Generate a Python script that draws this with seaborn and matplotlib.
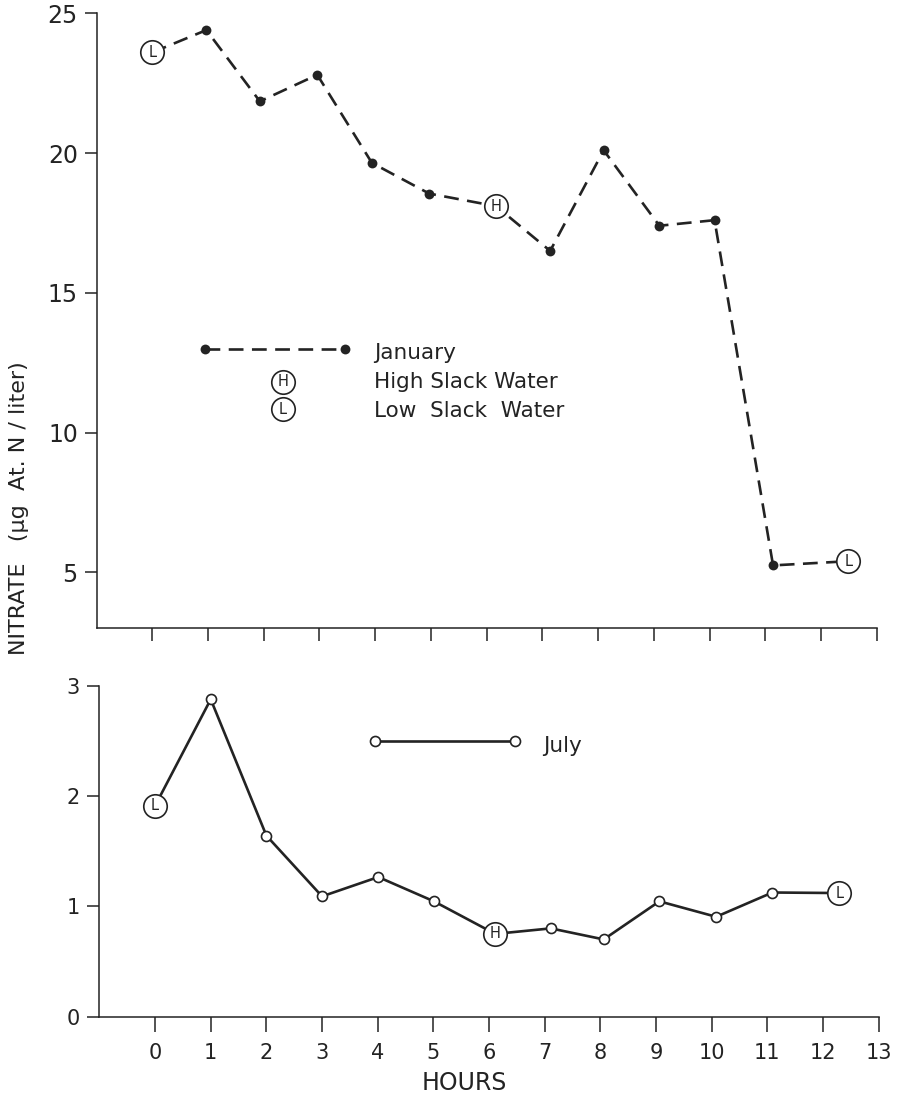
import matplotlib
matplotlib.use("Agg")
import matplotlib.pyplot as plt
import pandas as pd
import seaborn as sns

# January series: hour of sampling, nitrate, tide stage (L = low slack, H = high slack)
jan_hours = [0.0, 0.97, 1.93, 2.96, 3.94, 4.97, 6.17, 7.14, 8.10, 9.10, 10.09, 11.14, 12.49]
jan_nitrate = [23.6, 24.4, 21.85, 22.8, 19.65, 18.55, 18.1, 16.5, 20.1, 17.4, 17.6, 5.25, 5.4]
jan_tide = ["L", "", "", "", "", "", "H", "", "", "", "", "", "L"]

# July series
jul_hours = [0.0, 1.0, 2.0, 3.0, 4.01, 5.01, 6.11, 7.11, 8.06, 9.06, 10.08, 11.09, 12.29]
jul_nitrate = [1.91, 2.875, 1.64, 1.09, 1.265, 1.045, 0.75, 0.80, 0.70, 1.045, 0.905, 1.125, 1.12]
jul_tide = ["L", "", "", "", "", "", "H", "", "", "", "", "", "L"]

hour_ticks = list(range(0, 14))
jan_yticks = [5, 10, 15, 20, 25]
jul_yticks = [0, 1, 2, 3]

INK = "#232323"
W, H = 899, 1097

sns.set_theme(style="ticks")
plt.rcParams["font.family"] = ["DejaVu Sans"]
plt.rcParams["text.color"] = INK
plt.rcParams["axes.edgecolor"] = INK
plt.rcParams["xtick.color"] = INK
plt.rcParams["ytick.color"] = INK

fig = plt.figure(figsize=(W / 100, H / 100), dpi=100)
fig.patch.set_facecolor("white")


def px_axes(x0, x1, y_top, y_bot):
    return fig.add_axes([x0 / W, 1 - y_bot / H, (x1 - x0) / W, (y_bot - y_top) / H])


ax_jan = px_axes(96.6, 876.7, 13.3, 628.3)
ax_jul = px_axes(99.4, 878.7, 685.5, 1016.7)

jan = pd.DataFrame({"hour": jan_hours, "nitrate": jan_nitrate, "tide": jan_tide})
jul = pd.DataFrame({"hour": jul_hours, "nitrate": jul_nitrate, "tide": jul_tide})

DASH = (0, (5.6, 3.2))
DOT_S = 50
OPEN_S = 52
TIDE_S = 285


def draw_tide_marks(ax, df):
    tide = df[df["tide"] != ""]
    sns.scatterplot(data=tide, x="hour", y="nitrate", ax=ax, color="white",
                    edgecolor=INK, s=TIDE_S, linewidth=1.2, zorder=4)
    for _, row in tide.iterrows():
        ax.text(row["hour"], row["nitrate"], row["tide"], ha="center", va="center",
                fontsize=10.5, color=INK, zorder=5)


# January: dashed line, solid dots
sns.lineplot(data=jan, x="hour", y="nitrate", ax=ax_jan, color=INK, linewidth=1.9,
             linestyle=DASH, sort=False, zorder=2)
sns.scatterplot(data=jan[jan["tide"] == ""], x="hour", y="nitrate", ax=ax_jan,
                color=INK, edgecolor=INK, s=DOT_S, linewidth=0, zorder=3)
draw_tide_marks(ax_jan, jan)

# July: solid line, open circles
sns.lineplot(data=jul, x="hour", y="nitrate", ax=ax_jul, color=INK, linewidth=1.9,
             sort=False, zorder=2)
sns.scatterplot(data=jul[jul["tide"] == ""], x="hour", y="nitrate", ax=ax_jul,
                color="white", edgecolor=INK, s=OPEN_S, linewidth=1.2, zorder=3)
draw_tide_marks(ax_jul, jul)

# Axes styling
for ax in (ax_jan, ax_jul):
    ax.set_xlim(-1, 13)
    ax.set_xticks(hour_ticks)
    ax.set_xlabel("")
    ax.set_ylabel("")
    ax.set_facecolor("white")
    for side in ("top", "right"):
        ax.spines[side].set_visible(False)
    for side in ("left", "bottom"):
        ax.spines[side].set_linewidth(1.1)
        ax.spines[side].set_color(INK)
    ax.tick_params(axis="both", direction="out", width=1.1, color=INK)

ax_jan.set_ylim(3, 25)
ax_jan.set_yticks(jan_yticks)
ax_jan.tick_params(axis="x", length=9.5, labelbottom=False)
ax_jan.tick_params(axis="y", length=8.5, pad=5, labelsize=17)

ax_jul.set_ylim(0, 3)
ax_jul.set_yticks(jul_yticks)
ax_jul.tick_params(axis="x", length=10.5, pad=8.5, labelsize=15)
ax_jul.tick_params(axis="y", length=9, pad=5, labelsize=15)

# Key for the January panel
key_x0, key_x1, key_y = 0.946, 3.46, 13.0
ax_jan.plot([key_x0, key_x1], [key_y, key_y], color=INK, linewidth=1.9, linestyle=DASH,
            zorder=2)
ax_jan.scatter([key_x0, key_x1], [key_y, key_y], color=INK, s=DOT_S, linewidth=0, zorder=3)
for letter, ky in (("H", 11.82), ("L", 10.83)):
    ax_jan.scatter([2.34], [ky], color="white", edgecolor=INK, s=TIDE_S, linewidth=1.2, zorder=4)
    ax_jan.text(2.34, ky, letter, ha="center", va="center", fontsize=10.5, color=INK, zorder=5)
KEY_FS = 15.5
ax_jan.text(3.98, 12.62, "January", fontsize=KEY_FS, va="baseline", ha="left")
ax_jan.text(3.98, 11.58, "High Slack Water", fontsize=KEY_FS, va="baseline", ha="left")
ax_jan.text(3.98, 10.57, "Low  Slack  Water", fontsize=KEY_FS, va="baseline", ha="left")

# Key for the July panel
ax_jul.plot([3.95, 6.47], [2.497, 2.497], color=INK, linewidth=1.9, zorder=2)
ax_jul.scatter([3.95, 6.47], [2.497, 2.497], color="white", edgecolor=INK, s=OPEN_S,
               linewidth=1.2, zorder=3)
ax_jul.text(6.97, 2.40, "July", fontsize=KEY_FS, va="baseline", ha="left")

# Shared axis titles
fig.text(19 / W, 1 - 508 / H, "NITRATE   (μg  At. N / liter)", rotation=90,
         ha="center", va="center", fontsize=16, color=INK)
fig.text(464 / W, 1 - 1083 / H, "HOURS", ha="center", va="center", fontsize=17, color=INK)

fig.savefig("out.png", dpi=100, facecolor="white")
